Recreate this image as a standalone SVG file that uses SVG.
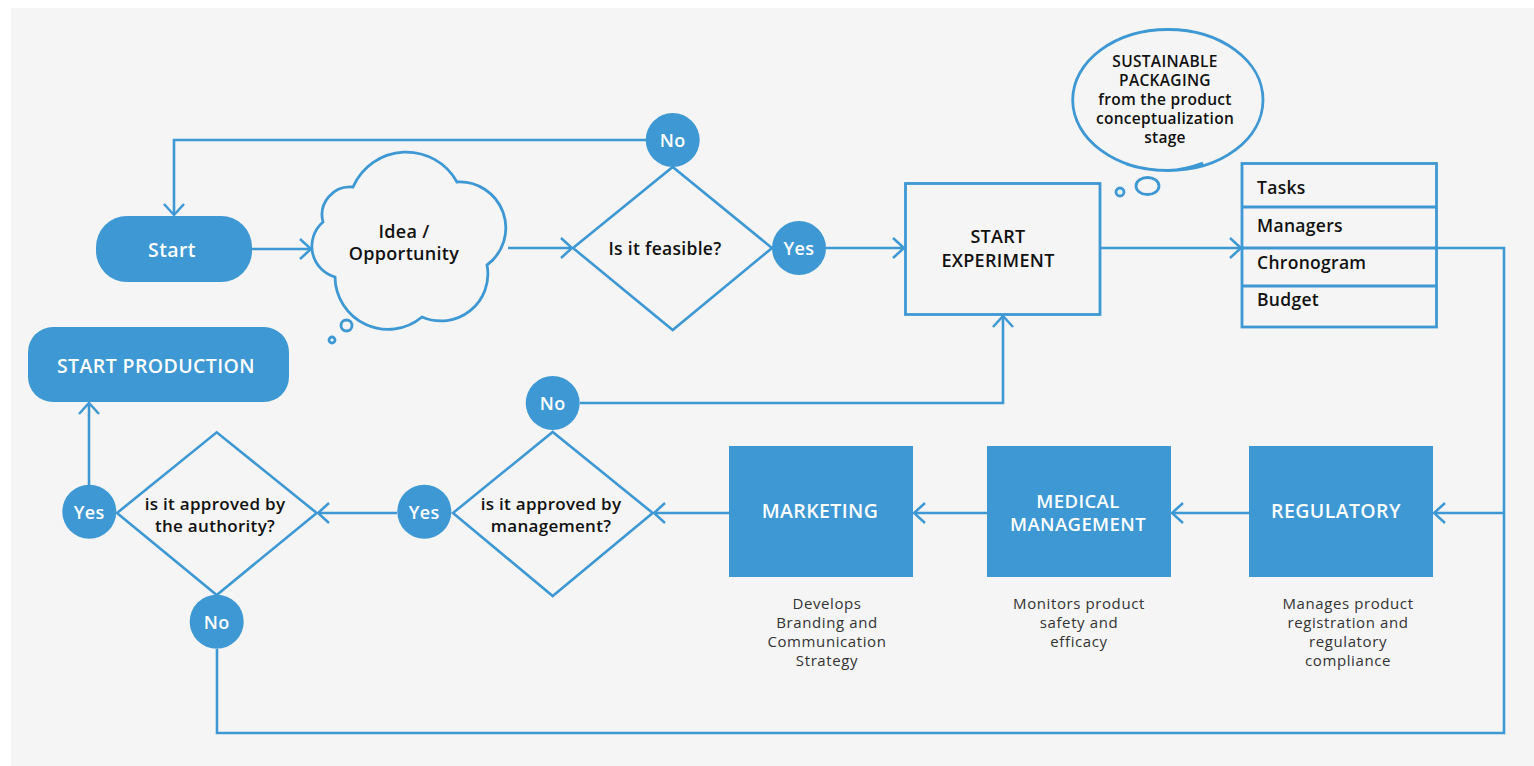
<svg xmlns="http://www.w3.org/2000/svg" width="1534" height="766" viewBox="0 0 1534 766">
<defs>
<marker id="arr" viewBox="0 0 14 22" markerWidth="14" markerHeight="22" refX="12.5" refY="11" orient="auto" markerUnits="userSpaceOnUse">
<path d="M1.5,1 L12.5,11 L1.5,21" fill="none" stroke="#3d98d4" stroke-width="2.5"/>
</marker>
<style>
.ln{fill:none;stroke:#3d98d4;stroke-width:2.6}
.fill{fill:#3d98d4}
.out{fill:none;stroke:#3d98d4;stroke-width:2.8}
.wt{fill:#ffffff;font-family:"Open Sans","Liberation Sans",sans-serif;font-weight:600;text-anchor:middle;dominant-baseline:central;letter-spacing:0.4px}
.bk{fill:#111111;font-family:"Open Sans","Liberation Sans",sans-serif;font-weight:600;text-anchor:middle;dominant-baseline:central;letter-spacing:0.3px}
.tb{fill:#111111;font-family:"Open Sans","Liberation Sans",sans-serif;font-weight:600;font-size:17.5px;letter-spacing:0.3px}
.ds{fill:#333333;font-family:"Open Sans","Liberation Sans",sans-serif;font-weight:400;font-size:15px;text-anchor:middle;dominant-baseline:central;letter-spacing:0.6px}
</style>
</defs>
<rect x="0" y="0" width="1534" height="766" fill="#ffffff"/>
<rect x="11" y="8" width="1523" height="758" fill="#f5f5f5"/>

<g id="connectors">
<path class="ln" d="M251,249 H311" marker-end="url(#arr)"/>
<path class="ln" d="M508,248 H572" marker-end="url(#arr)"/>
<path class="ln" d="M646,140 H174 V215" marker-end="url(#arr)"/>
<path class="ln" d="M826,248 H904" marker-end="url(#arr)"/>
<path class="ln" d="M1100,248 H1241" marker-end="url(#arr)"/>
<path class="ln" d="M1437,248 H1504 V733 H217 V649"/>
<path class="ln" d="M1504,513 H1434" marker-end="url(#arr)"/>
<path class="ln" d="M1249,513 H1172" marker-end="url(#arr)"/>
<path class="ln" d="M987,513 H914" marker-end="url(#arr)"/>
<path class="ln" d="M729,513 H654" marker-end="url(#arr)"/>
<path class="ln" d="M397,513 H318" marker-end="url(#arr)"/>
<path class="ln" d="M580,403 H1003 V316" marker-end="url(#arr)"/>
<path class="ln" d="M89,485 V403" marker-end="url(#arr)"/>
</g>

<g id="start">
<rect class="fill" x="96" y="216" width="156" height="66" rx="31"/>
<text class="wt" x="172" y="249" font-size="19.5">Start</text>
</g>

<g id="idea">
<path class="out" d="M353,187 A58,58 0 0 1 457,182 A46,46 0 0 1 487,265 A47,47 0 0 1 422,317 A53,53 0 0 1 335,277 A32,32 0 0 1 323,222 A28,28 0 0 1 353,187 Z"/>
<circle class="out" cx="346.5" cy="325.5" r="5.5" stroke-width="2.5"/>
<circle class="out" cx="332" cy="340" r="3" stroke-width="2.5"/>
<text class="bk" font-size="18"><tspan x="404" y="231">Idea /</tspan><tspan x="404" y="253">Opportunity</tspan></text>
</g>

<g id="feasible">
<polygon class="ln" points="573,248 672.7,167 772,248 672.7,330"/>
<text class="bk" x="665" y="248" font-size="17.5">Is it feasible?</text>
</g>

<g id="no1">
<circle class="fill" cx="672.7" cy="140" r="27"/>
<text class="wt" x="672.7" y="140" font-size="18">No</text>
</g>

<g id="yes1">
<circle class="fill" cx="799" cy="248" r="27"/>
<text class="wt" x="799" y="248" font-size="18">Yes</text>
</g>

<g id="experiment">
<rect class="out" x="905.5" y="183.5" width="194.5" height="131" fill="#f5f5f5"/>
<text class="bk" font-size="18" letter-spacing="0.6"><tspan x="998" y="236">START</tspan><tspan x="998" y="259.5">EXPERIMENT</tspan></text>
</g>

<g id="bubble">
<path class="out" d="M1168,170.5 C1115,170.5 1072.7,139 1072.7,100 C1072.7,61 1115,29.5 1168,29.5 C1221,29.5 1263,61 1263,100 C1263,139 1221,170.5 1168,170.5 C1150,170.5 1137,168 1126,164 M1168,170.5 C1180,170 1192,167 1203,163"/>
<ellipse class="out" cx="1147.5" cy="186" rx="11.5" ry="8.5" stroke-width="2.5"/>
<circle class="out" cx="1120" cy="192" r="4" stroke-width="2.5"/>
<text class="bk" font-size="15.5"><tspan x="1165" y="61">SUSTAINABLE</tspan><tspan x="1165" y="80">PACKAGING</tspan><tspan x="1165" y="99">from the product</tspan><tspan x="1165" y="118">conceptualization</tspan><tspan x="1165" y="137">stage</tspan></text>
</g>

<g id="table">
<rect class="out" x="1242" y="163.5" width="194.5" height="163.5"/>
<line class="out" x1="1242" y1="207" x2="1436.5" y2="207"/>
<line class="out" x1="1242" y1="248" x2="1436.5" y2="248"/>
<line class="out" x1="1242" y1="286" x2="1436.5" y2="286"/>
<text class="tb" x="1257" y="193.5">Tasks</text>
<text class="tb" x="1257" y="231.5">Managers</text>
<text class="tb" x="1257" y="268.5">Chronogram</text>
<text class="tb" x="1257" y="305.5">Budget</text>
</g>

<g id="regulatory">
<rect class="fill" x="1249" y="446" width="184" height="131"/>
<text class="wt" x="1336" y="510" font-size="19.5">REGULATORY</text>
<text class="ds"><tspan x="1348" y="603">Manages product</tspan><tspan x="1348" y="622">registration and</tspan><tspan x="1348" y="641">regulatory</tspan><tspan x="1348" y="660">compliance</tspan></text>
</g>

<g id="medical">
<rect class="fill" x="987" y="446" width="184" height="131"/>
<text class="wt" font-size="18.5" letter-spacing="0.7"><tspan x="1078" y="499.5">MEDICAL</tspan><tspan x="1078" y="522.5">MANAGEMENT</tspan></text>
<text class="ds"><tspan x="1079" y="603">Monitors product</tspan><tspan x="1079" y="622">safety and</tspan><tspan x="1079" y="641">efficacy</tspan></text>
</g>

<g id="marketing">
<rect class="fill" x="729" y="446" width="184" height="131"/>
<text class="wt" x="820" y="510" font-size="19.5">MARKETING</text>
<text class="ds"><tspan x="827" y="603">Develops</tspan><tspan x="827" y="622">Branding and</tspan><tspan x="827" y="641">Communication</tspan><tspan x="827" y="660">Strategy</tspan></text>
</g>

<g id="mgmt-approval">
<polygon class="ln" points="453,513 552.7,432 652.7,513 552.7,596"/>
<text class="bk" font-size="17"><tspan x="551" y="503">is it approved by</tspan><tspan x="551" y="525">management?</tspan></text>
</g>

<g id="no2">
<circle class="fill" cx="552.7" cy="403" r="27"/>
<text class="wt" x="552.7" y="403" font-size="18">No</text>
</g>

<g id="yes2">
<circle class="fill" cx="424.3" cy="511.7" r="27"/>
<text class="wt" x="424.3" y="511.7" font-size="18">Yes</text>
</g>

<g id="authority-approval">
<polygon class="ln" points="117,513 216.7,432.3 316.7,513 216.7,595"/>
<text class="bk" font-size="17"><tspan x="215" y="503">is it approved by</tspan><tspan x="215" y="525">the authority?</tspan></text>
</g>

<g id="yes3">
<circle class="fill" cx="89.3" cy="511.7" r="27"/>
<text class="wt" x="89.3" y="511.7" font-size="18">Yes</text>
</g>

<g id="no3">
<circle class="fill" cx="216.7" cy="621.7" r="27"/>
<text class="wt" x="216.7" y="621.7" font-size="18">No</text>
</g>

<g id="production">
<rect class="fill" x="28" y="327" width="261" height="75" rx="25"/>
<text class="wt" x="156" y="365" font-size="19.5">START PRODUCTION</text>
</g>
</svg>
